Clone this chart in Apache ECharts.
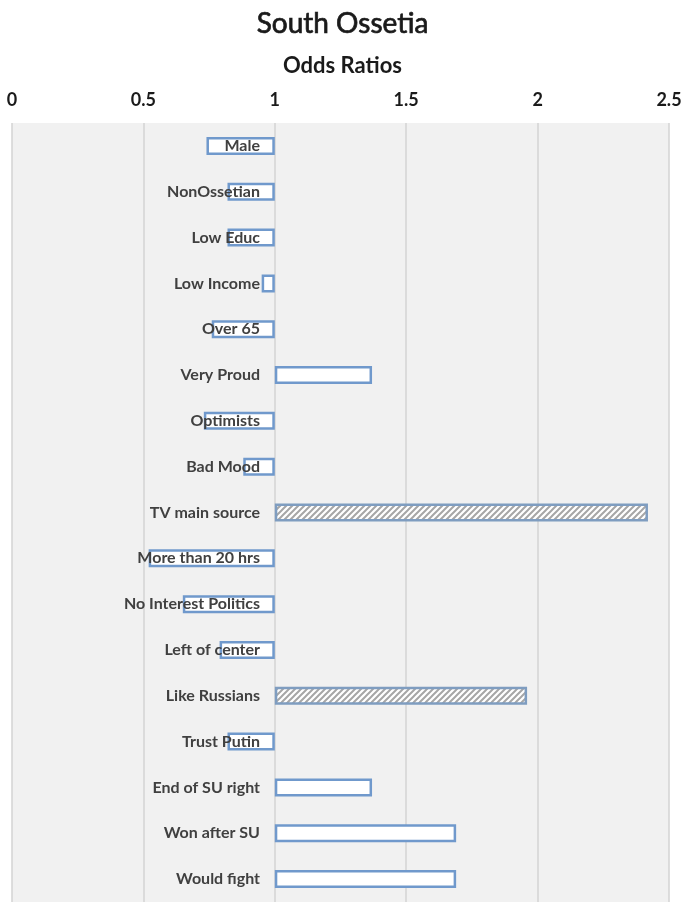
<!DOCTYPE html>
<html>
<head>
<meta charset="utf-8">
<script src="https://cdn.jsdelivr.net/npm/echarts@6/dist/echarts.min.js"></script>
<style>
html,body{margin:0;padding:0;background:#fff;}
#chart{width:685px;height:902px;}
</style>
</head>
<body>
<div id="chart"></div>
<script>
var categories = ["Male","NonOssetian","Low Educ","Low Income","Over 65","Very Proud","Optimists","Bad Mood","TV main source","More than 20 hrs","No Interest Politics","Left of center","Like Russians","Trust Putin","End of SU right","Won after SU","Would fight"];
var oddsRatios = [0.74,0.82,0.82,0.95,0.76,1.37,0.73,0.88,2.42,0.52,0.65,0.79,1.96,0.82,1.37,1.69,1.69];
var significant = [false,false,false,false,false,false,false,false,true,false,false,false,true,false,false,false,false];
var xTicks = [0,0.5,1,1.5,2,2.5];
var baseline = 1;

function hatchPattern(){
  var c = document.createElement('canvas');
  c.width = 6; c.height = 6;
  var g = c.getContext('2d');
  g.fillStyle = '#ffffff'; g.fillRect(0,0,6,6);
  g.strokeStyle = '#a6a6a6'; g.lineWidth = 2;
  g.beginPath();
  g.moveTo(-1,7); g.lineTo(7,-1);
  g.moveTo(-1,1); g.lineTo(1,-1);
  g.moveTo(5,7); g.lineTo(7,5);
  g.stroke();
  return {image:c, repeat:'repeat'};
}
var hatch = hatchPattern();

var baseData = oddsRatios.map(function(v){ return Math.min(v, baseline); });
var deltaData = oddsRatios.map(function(v,i){
  var d = Math.abs(v - baseline);
  if (significant[i]) {
    return {value:d, itemStyle:{color:hatch, borderColor:'#7f9dc0'}};
  }
  return d;
});

var font = 'Lato, "Open Sans", sans-serif';
var chart = echarts.init(document.getElementById('chart'));
chart.setOption({
  animation:false,
  backgroundColor:'#ffffff',
  title:[
    {text:'South Ossetia', left:'center', top:5, textStyle:{fontFamily:font, fontSize:28, fontWeight:'normal', color:'#1a1a1a', textBorderColor:'#1a1a1a', textBorderWidth:0.7}},
    {text:'Odds Ratios', left:'center', top:50, textStyle:{fontFamily:font, fontSize:22, fontWeight:'bold', color:'#1a1a1a'}}
  ],
  grid:{left:12, right:16, top:123, height:783, show:true, backgroundColor:'#f1f1f1', borderWidth:0, containLabel:false},
  xAxis:{
    type:'value', position:'top', min:xTicks[0], max:xTicks[xTicks.length-1], interval:0.5,
    axisLine:{show:false}, axisTick:{show:false},
    axisLabel:{margin:14, fontFamily:font, fontSize:18, fontWeight:'bold', color:'#1a1a1a', formatter:function(v){return String(v);}},
    splitLine:{show:true, lineStyle:{color:'#d3d3d3', width:1.5}}
  },
  yAxis:{
    type:'category', inverse:true, data:categories, position:'left', offset:-263, z:10,
    axisLine:{show:false}, axisTick:{show:false},
    axisLabel:{margin:15, fontFamily:font, fontSize:16, fontWeight:'bold', color:'#404040'}
  },
  series:[
    {type:'bar', stack:'or', data:baseData, barWidth:18, silent:true,
     itemStyle:{color:'rgba(0,0,0,0)', borderWidth:0}},
    {type:'bar', stack:'or', data:deltaData, barWidth:18,
     itemStyle:{color:'#ffffff', borderColor:'#7099cc', borderWidth:2.5}}
  ]
});
</script>
</body>
</html>
